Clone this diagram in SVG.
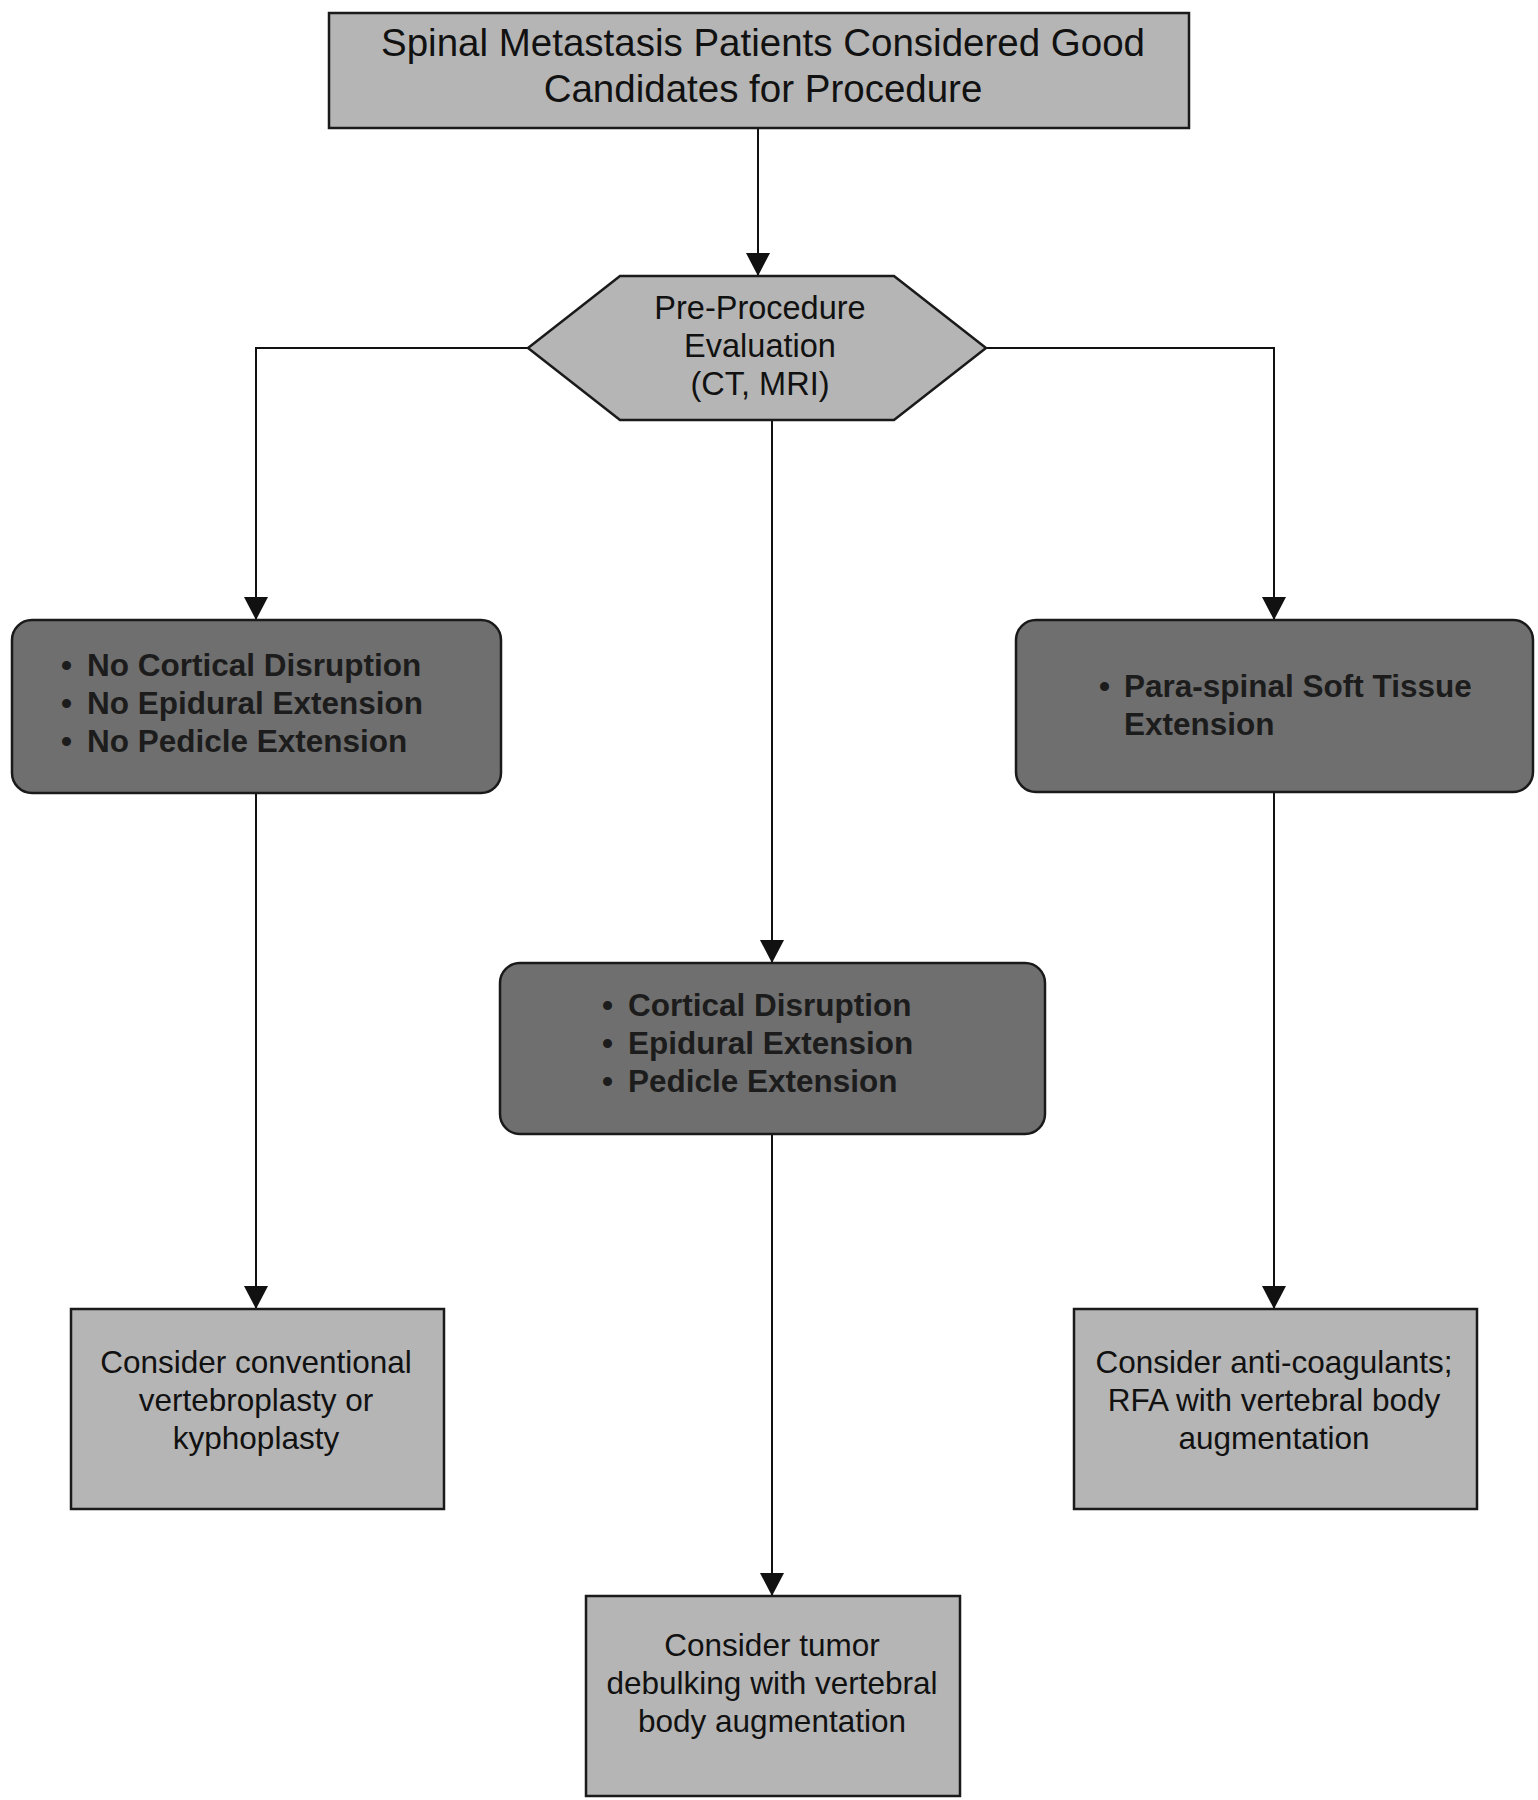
<svg xmlns="http://www.w3.org/2000/svg" width="1538" height="1800" viewBox="0 0 1538 1800">
<defs>
<marker id="arr" markerWidth="24" markerHeight="24" refX="23" refY="12" orient="auto" markerUnits="userSpaceOnUse"><path d="M0,0 L23,12 L0,24 z" fill="#111"/></marker>
<style>
.light{fill:#b5b5b5;stroke:#1a1a1a;stroke-width:2.5}
.dark{fill:#6f6f6f;stroke:#1a1a1a;stroke-width:2.5}
.plain{font-family:"Liberation Sans",Arial,sans-serif;font-size:31.5px;fill:#111;text-anchor:middle}
.hex{font-family:"Liberation Sans",Arial,sans-serif;font-size:32.5px;fill:#111;text-anchor:middle}
.title{font-family:"Liberation Sans",Arial,sans-serif;font-size:38.5px;fill:#111;text-anchor:middle}
.bold{font-family:"Liberation Sans",Arial,sans-serif;font-size:31.5px;font-weight:bold;fill:#1c1c1c}
.conn{fill:none;stroke:#111;stroke-width:2;marker-end:url(#arr)}
</style>
</defs>
<rect width="1538" height="1800" fill="#fff"/>
<g id="connectors">
<path class="conn" d="M758,128 V276"/>
<path class="conn" d="M528,348 H256 V620"/>
<path class="conn" d="M986,348 H1274 V620"/>
<path class="conn" d="M772,420 V963"/>
<path class="conn" d="M256,793 V1309"/>
<path class="conn" d="M772,1134 V1596"/>
<path class="conn" d="M1274,792 V1309"/>
</g>
<g id="start">
<rect class="light" x="329" y="13" width="860" height="115"/>
<text class="title" x="763" y="56">Spinal Metastasis Patients Considered Good</text>
<text class="title" x="763" y="102">Candidates for Procedure</text>
</g>
<g id="evaluation">
<polygon class="light" points="620,276 894,276 986,348 894,420 620,420 528,348"/>
<text class="hex" x="760" y="319">Pre-Procedure</text>
<text class="hex" x="760" y="357">Evaluation</text>
<text class="hex" x="760" y="395">(CT, MRI)</text>
</g>
<g id="no-extension">
<rect class="dark" x="12" y="620" width="489" height="173" rx="20"/>
<text class="bold" y="676"><tspan x="61">•</tspan><tspan x="87">No Cortical Disruption</tspan></text>
<text class="bold" y="714"><tspan x="61">•</tspan><tspan x="87">No Epidural Extension</tspan></text>
<text class="bold" y="752"><tspan x="61">•</tspan><tspan x="87">No Pedicle Extension</tspan></text>
</g>
<g id="extension">
<rect class="dark" x="500" y="963" width="545" height="171" rx="20"/>
<text class="bold" y="1016"><tspan x="602">•</tspan><tspan x="628">Cortical Disruption</tspan></text>
<text class="bold" y="1054"><tspan x="602">•</tspan><tspan x="628">Epidural Extension</tspan></text>
<text class="bold" y="1092"><tspan x="602">•</tspan><tspan x="628">Pedicle Extension</tspan></text>
</g>
<g id="paraspinal">
<rect class="dark" x="1016" y="620" width="517" height="172" rx="20"/>
<text class="bold" y="697"><tspan x="1099">•</tspan><tspan x="1124">Para-spinal Soft Tissue</tspan></text>
<text class="bold" x="1124" y="735">Extension</text>
</g>
<g id="vertebroplasty">
<rect class="light" x="71" y="1309" width="373" height="200"/>
<text class="plain" x="256" y="1373">Consider conventional</text>
<text class="plain" x="256" y="1411">vertebroplasty or</text>
<text class="plain" x="256" y="1449">kyphoplasty</text>
</g>
<g id="debulking">
<rect class="light" x="586" y="1596" width="374" height="200"/>
<text class="plain" x="772" y="1656">Consider tumor</text>
<text class="plain" x="772" y="1694">debulking with vertebral</text>
<text class="plain" x="772" y="1732">body augmentation</text>
</g>
<g id="rfa">
<rect class="light" x="1074" y="1309" width="403" height="200"/>
<text class="plain" x="1274" y="1373">Consider anti-coagulants;</text>
<text class="plain" x="1274" y="1411">RFA with vertebral body</text>
<text class="plain" x="1274" y="1449">augmentation</text>
</g>
</svg>
